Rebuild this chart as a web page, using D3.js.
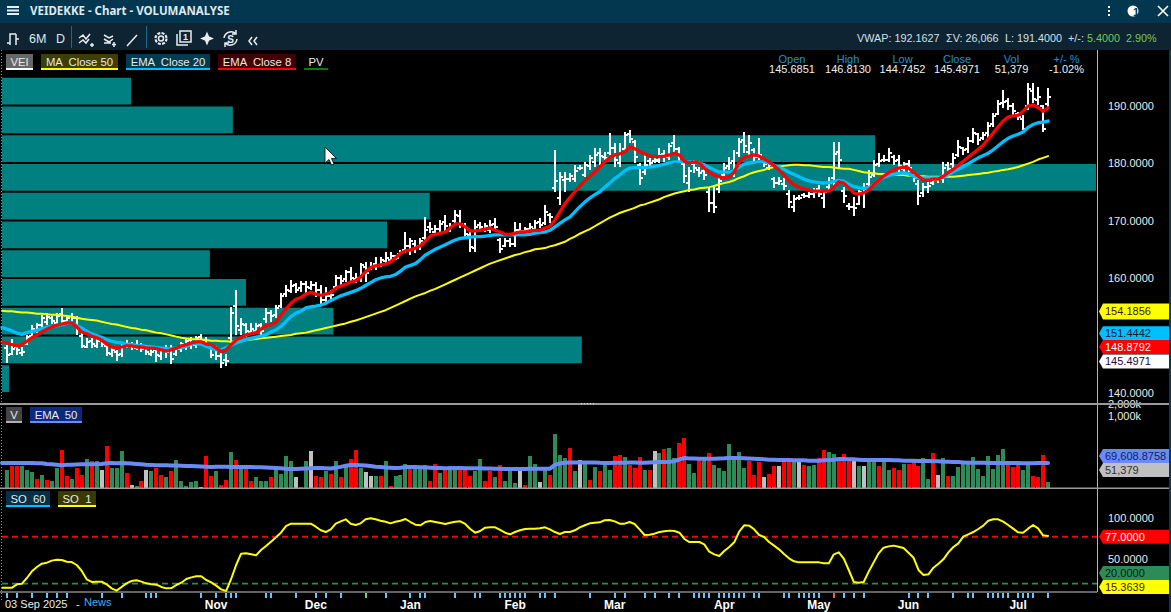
<!DOCTYPE html>
<html>
<head>
<meta charset="utf-8">
<title>VEIDEKKE - Chart - VOLUMANALYSE</title>
<script src="https://cdn.jsdelivr.net/npm/d3@7"></script>
<style>
html, body { margin: 0; padding: 0; background: #000; overflow: hidden; }
svg { display: block; }
text { font-family: "Liberation Sans", Arial, sans-serif; white-space: pre; }
</style>
</head>
<body>
<div id="chart"></div>
<script>
// daily bars
const highs = [
148.4,149.4,148.2,148.0,150.1,151.8,152.2,153.6,153.9,153.4,
153.9,154.8,153.4,153.9,153.4,150.8,149.6,149.6,149.7,149.6,
148.5,147.8,147.5,148.9,149.2,148.9,149.2,148.7,148.4,148.2,
148.2,148.0,148.4,148.4,148.0,148.9,149.6,149.7,149.9,150.3,
149.7,148.5,148.2,147.1,146.813,154.9,157.9,153.0,152.2,152.2,
152.2,152.2,154.8,154.4,155.3,157.4,158.8,159.7,159.1,159.5,
159.5,159.5,159.3,158.8,158.4,157.9,160.5,160.5,161.4,161.9,
160.9,162.6,162.8,162.8,163.7,163.7,164.5,164.5,164.0,164.9,
168.0,167.0,166.6,167.0,170.6,169.7,169.2,170.1,171.0,169.6,
171.8,171.8,169.6,168.3,170.1,169.7,169.6,170.1,170.4,167.0,
167.0,167.0,169.7,169.6,168.9,169.6,170.1,170.4,172.7,171.3,
182.3,178.4,178.4,178.3,179.7,179.7,180.2,181.4,182.6,182.6,
181.9,185.2,183.5,183.5,185.4,185.7,184.0,180.0,181.7,180.9,
180.9,182.6,182.3,183.5,184.9,182.8,180.2,179.3,180.5,179.3,
179.3,175.8,176.2,177.4,180.0,181.0,182.3,184.4,185.4,184.9,
182.6,184.4,180.5,180.2,177.6,177.6,177.4,175.3,174.4,174.4,
174.8,175.0,175.7,176.2,175.3,177.6,183.7,183.7,175.8,173.0,
174.1,175.3,176.5,178.8,180.5,181.7,181.4,182.6,181.4,181.4,
180.2,180.5,178.4,177.0,176.5,177.0,177.4,177.6,180.2,180.2,
181.7,184.0,182.8,184.5,186.1,185.2,185.4,187.1,188.7,191.0,
192.7,191.3,190.4,188.9,188.3,193.9,193.9,193.2,190.1,193.0];
const lows = [
145.2,146.6,146.6,146.4,148.4,149.7,150.4,151.3,151.8,152.0,
151.8,151.8,152.2,152.0,150.1,147.8,147.8,147.8,147.8,148.0,
146.4,146.3,145.6,146.3,147.8,147.5,147.5,147.1,146.6,146.4,
145.4,145.7,146.1,145.0,146.4,147.1,147.5,147.6,147.8,148.4,
147.8,146.1,145.7,144.3,144.7452,148.7,150.1,150.1,149.7,150.1,
150.4,149.7,152.2,152.3,153.0,154.8,156.7,157.4,157.4,157.6,
157.4,157.9,156.7,155.3,155.6,156.2,157.9,158.4,159.3,159.1,
159.1,159.3,159.3,161.4,161.4,161.9,162.6,162.8,163.1,164.0,
164.3,164.0,164.3,164.9,166.6,167.8,167.5,168.0,168.0,168.0,
169.6,168.7,167.0,164.5,164.5,168.0,168.0,167.8,168.3,164.3,
165.4,165.4,165.4,167.8,167.8,168.3,168.0,168.7,169.2,169.6,
175.0,172.7,175.0,176.7,176.7,178.8,177.6,178.8,179.3,179.7,
180.2,181.4,179.3,179.3,181.7,183.5,180.0,176.2,177.9,179.3,
180.0,180.0,180.2,180.5,181.4,180.2,176.5,175.0,178.3,177.6,
177.0,171.5,171.3,174.8,177.6,178.8,177.6,181.0,181.7,181.4,
180.2,180.5,179.3,178.8,175.7,176.2,175.3,172.2,171.5,173.6,
173.9,173.9,173.9,174.1,172.2,175.3,175.8,179.1,173.0,171.8,
170.8,172.7,172.2,175.8,177.6,179.3,180.2,180.2,179.6,178.4,
178.3,178.4,176.7,172.7,174.1,174.8,176.2,176.5,176.5,177.9,
179.1,181.0,181.4,181.7,183.5,183.1,184.0,184.4,186.3,188.3,
189.6,189.2,188.3,187.5,185.7,189.2,190.4,190.1,185.4,189.6];
const opens = [
147.8,146.8,148.0,147.0,148.6,150.0,151.0,151.8,152.4,153.0,
152.2,153.8,152.6,152.4,153.0,150.0,148.0,149.0,148.2,149.2,
148.2,146.8,147.2,146.8,148.6,148.6,147.8,148.2,148.0,146.8,
147.4,146.4,147.8,147.8,146.8,147.6,148.4,149.2,148.4,149.8,
149.2,148.0,147.6,146.4,145.6851,149.6,155.2,151.0,151.8,150.6,
150.8,151.8,152.8,154.0,153.6,155.2,157.2,157.8,158.8,158.2,
159.0,158.2,158.8,158.0,156.2,156.8,158.4,160.0,159.8,161.0,
159.8,160.0,162.0,161.6,162.4,162.2,163.0,163.2,163.8,164.2,
164.8,165.6,166.0,165.6,167.0,168.8,168.0,168.6,169.8,168.4,
170.0,170.8,169.0,167.4,165.2,169.2,168.4,168.4,169.4,166.6,
165.6,166.4,166.0,168.4,168.2,168.6,168.6,169.8,169.6,171.0,
175.6,174.0,177.0,177.2,177.2,179.2,178.0,179.4,180.2,181.8,
181.0,181.8,182.6,180.0,182.4,185.0,183.6,179.6,178.4,180.4,
180.4,180.4,181.6,181.0,183.4,182.4,179.8,176.6,179.8,178.8,
178.6,175.0,173.0,175.4,178.0,179.4,180.4,181.8,184.0,182.0,
182.2,181.0,180.2,179.2,177.2,176.6,176.4,174.6,172.4,174.0,
174.4,174.2,174.6,175.4,174.0,175.8,177.4,182.0,175.2,172.6,
172.4,172.8,174.6,176.4,178.0,179.8,180.6,180.6,181.0,180.6,
179.0,179.8,178.0,176.4,174.8,175.8,176.6,177.0,177.2,179.6,
179.8,181.4,182.6,182.4,183.8,185.0,184.4,185.2,186.8,188.6,
190.4,190.8,190.0,188.6,187.6,190.0,192.6,191.0,190.0,190.2];
const closes = [
146.6,147.6,147.4,147.2,149.8,151.2,151.8,153.0,153.2,152.6,
153.4,152.6,153.0,153.0,151.0,148.2,148.8,148.6,149.0,148.6,
147.0,147.4,146.6,148.2,148.4,148.0,148.4,147.6,147.2,147.2,
146.6,147.4,147.2,146.0,147.6,148.6,149.0,148.8,149.6,149.0,
148.4,146.6,146.4,145.2,145.4971,154.0,151.6,152.0,150.8,151.2,
151.6,150.8,154.0,153.4,154.8,156.8,158.0,158.6,158.0,159.0,
158.4,158.8,158.0,156.2,156.8,157.0,160.0,159.4,161.0,160.0,
160.0,162.2,160.8,162.0,162.2,163.2,163.4,163.8,163.4,164.6,
165.6,166.4,165.4,166.4,168.4,168.6,168.6,169.4,169.0,169.0,
171.0,169.4,167.6,165.4,168.8,168.8,169.0,169.2,168.8,165.0,
166.4,166.0,168.4,168.2,168.6,168.9,169.6,169.2,171.4,170.6,
176.8,177.6,177.2,177.8,178.6,179.2,179.6,180.8,181.4,181.2,
180.8,182.6,180.6,181.8,184.8,184.2,181.0,177.4,179.6,180.0,
180.6,181.4,181.2,183.0,182.4,181.0,177.8,178.6,179.2,178.2,
178.0,173.0,172.4,176.8,179.2,180.0,179.0,183.6,183.0,183.4,
181.0,181.4,179.8,179.6,176.6,176.8,176.0,173.2,173.8,174.0,
174.2,174.6,175.0,174.6,175.0,176.6,181.6,180.6,174.2,172.4,
172.2,175.0,175.4,177.6,179.6,180.4,180.6,181.8,180.4,179.4,
179.8,179.2,177.4,174.2,175.8,176.0,177.0,177.2,179.2,179.0,
180.8,182.8,182.2,183.8,185.2,184.0,184.8,186.4,188.2,190.2,
190.6,190.0,189.0,188.0,186.0,192.8,191.2,191.4,186.0,191.4];

// the line series start one bar earlier than the bars on screen
// MA Close 50
const ma50 = [154.3,
154.2,154.2,154.1,154.0,154.0,153.9,153.8,153.8,153.7,153.6,
153.6,153.5,153.4,153.3,153.1,152.9,152.8,152.7,152.6,152.4,
152.2,152.0,151.9,151.7,151.5,151.3,151.2,151.0,150.9,150.7,
150.5,150.4,150.2,150.0,149.8,149.6,149.5,149.4,149.3,149.3,
149.2,149.1,149.1,149.0,149.0,148.9,149.0,149.0,149.2,149.3,
149.4,149.5,149.6,149.7,149.8,149.9,150.0,150.1,150.3,150.4,
150.5,150.7,150.9,151.1,151.3,151.5,151.7,151.9,152.1,152.4,
152.6,152.9,153.2,153.5,153.8,154.1,154.4,154.8,155.2,155.6,
156.0,156.4,156.8,157.1,157.4,157.8,158.1,158.5,158.9,159.3,
159.7,160.1,160.5,160.9,161.3,161.7,162.1,162.5,162.8,163.1,
163.4,163.7,164.0,164.2,164.5,164.7,165.0,165.1,165.2,165.5,
165.7,166.0,166.3,166.8,167.2,167.7,168.1,168.5,169.0,169.5,
170.0,170.5,170.9,171.3,171.6,171.9,172.2,172.6,172.8,173.1,
173.4,173.7,174.1,174.4,174.7,174.9,175.1,175.3,175.4,175.6,
175.7,175.8,176.0,176.3,176.5,176.7,177.0,177.4,177.7,178.1,
178.4,178.6,178.8,179.1,179.3,179.4,179.5,179.6,179.7,179.7,
179.6,179.6,179.5,179.4,179.3,179.3,179.2,179.1,179.0,179.0,
178.8,178.6,178.4,178.3,178.2,178.1,178.1,178.0,178.0,177.9,
177.9,177.8,177.8,177.7,177.7,177.6,177.6,177.6,177.6,177.6,
177.6,177.7,177.8,177.9,178.0,178.1,178.2,178.3,178.5,178.6,
178.8,178.9,179.1,179.3,179.6,179.9,180.2,180.6,180.9,181.2];
// EMA Close 20
const ema20 = [151.4,
151.1,150.8,150.4,150.2,150.5,150.7,150.9,151.2,151.4,151.6,
151.7,151.9,152.1,152.2,151.7,151.3,150.7,150.3,150.0,149.7,
149.3,149.0,148.8,148.7,148.5,148.4,148.3,148.2,148.1,148.0,
147.9,147.8,147.7,147.7,147.8,147.9,148.1,148.5,148.6,148.5,
148.1,147.8,147.5,147.5,147.9,148.3,148.7,149.0,149.3,149.5,
149.7,149.9,150.1,150.6,151.0,151.6,152.4,153.3,153.9,154.2,
154.8,155.0,155.1,155.3,155.6,156.1,156.5,156.9,157.2,157.5,
157.8,158.2,158.7,159.2,159.7,160.0,160.2,160.3,160.6,161.2,
161.9,162.2,162.5,163.2,164.0,164.5,165.0,165.4,165.8,166.2,
166.6,166.9,167.0,167.1,167.2,167.2,167.3,167.4,167.5,167.5,
167.5,167.5,167.5,167.5,167.5,167.6,167.8,167.9,168.0,168.3,
168.9,169.5,170.1,170.6,171.5,172.4,173.2,173.9,174.5,175.0,
175.8,176.5,177.3,177.9,178.6,179.1,179.2,179.2,179.2,179.3,
179.4,179.6,179.8,180.0,180.2,180.2,180.2,180.2,180.1,180.0,
179.7,179.2,178.8,178.4,178.4,178.4,178.7,179.3,179.8,180.0,
180.1,180.2,180.2,180.0,179.6,179.2,178.9,178.4,178.0,177.6,
177.2,176.9,176.7,176.6,176.5,176.6,176.8,177.0,176.8,176.3,
175.9,175.7,175.6,175.7,176.2,177.0,177.5,177.8,178.0,178.2,
178.3,178.1,177.7,177.4,177.4,177.4,177.4,177.4,177.5,178.0,
178.5,178.9,179.4,179.9,180.4,180.9,181.3,181.7,182.3,183.0,
183.7,184.3,184.7,185.0,185.4,186.2,186.7,187.0,187.1,187.3];
// EMA Close 8
const ema8 = [148.9,
148.7,148.4,148.2,148.4,149.0,149.6,150.1,150.6,151.1,151.5,
151.8,152.0,152.2,152.2,151.5,150.6,150.3,149.9,149.6,149.2,
148.5,148.0,147.8,148.0,148.2,148.2,148.0,148.0,147.8,147.8,
147.7,147.5,147.3,147.5,147.8,148.2,148.4,148.7,148.9,148.9,
148.5,148.4,147.8,147.2,147.5,148.4,149.2,149.7,150.1,150.3,
150.5,151.1,151.7,151.9,152.3,153.6,154.6,155.6,156.3,156.6,
157.2,157.5,157.2,157.0,157.2,157.5,158.2,158.6,158.9,159.3,
159.5,160.2,161.1,161.8,162.1,162.3,162.4,162.8,163.5,164.3,
164.7,164.9,165.2,165.6,166.4,167.3,167.6,167.8,168.0,168.7,
169.4,169.4,168.9,168.2,168.2,168.3,168.5,168.7,168.3,168.0,
167.6,167.6,167.8,168.0,168.0,168.2,168.3,168.3,168.7,169.0,
170.1,171.5,172.9,174.0,175.0,176.0,176.9,177.7,178.4,179.3,
180.2,180.9,181.4,181.6,181.9,182.8,182.5,182.0,181.6,181.2,
181.1,181.1,181.2,181.4,181.7,181.4,180.3,180.0,180.2,180.0,
179.1,178.4,177.9,177.6,177.4,177.6,178.4,180.2,181.0,181.2,
181.4,181.2,180.7,180.2,179.5,178.8,177.9,176.9,176.2,175.8,
175.5,175.3,175.1,175.1,175.1,175.1,175.8,176.7,176.5,175.7,
174.8,174.6,174.8,175.3,176.2,177.0,177.7,178.3,178.8,179.1,
179.3,179.1,178.4,177.7,177.0,177.0,177.2,177.2,177.7,178.4,
178.9,179.6,180.3,181.0,181.7,182.4,183.1,184.2,185.2,186.3,
187.3,188.0,188.2,188.3,189.0,189.9,190.1,189.7,189.0,189.6];

// volume in thousands, with its side: g up, r down, n unchanged
const volumes = [
83,100,100,100,83,76,55,66,52,50,
91,209,63,55,91,66,138,126,126,83,
251,91,91,200,72,42,40,50,83,80,
91,66,60,80,132,50,40,48,50,38,
158,63,80,42,51.379,191,132,91,91,50,
60,50,50,60,91,69,158,126,60,38,
126,200,63,60,80,69,126,60,110,138,
209,91,76,63,63,63,126,40,63,66,
110,91,91,87,105,50,110,72,87,100,
100,91,91,63,80,138,50,80,60,105,
50,87,46,80,42,158,110,48,91,66,
437,166,145,229,80,132,126,52,96,80,
110,83,158,166,151,105,91,151,83,83,
200,182,219,229,145,288,363,110,72,132,
132,182,105,91,80,275,158,191,91,126,
66,120,60,69,100,100,126,126,126,120,
105,100,105,145,209,191,174,145,174,138,
138,100,100,126,120,100,126,83,91,83,
110,110,120,100,145,55,182,66,145,63,
63,96,115,110,151,87,63,158,87,166,
219,115,96,105,83,110,63,60,166,48];
const volSide = (
"grrgggrgrg" + "grrgrrgrgn" + "rgggrngrng" + "rrgrgggggn" + "rrgrrgrgrr" +
"gggrggggnr" + "gnrrgrgrgr" + "rgnngrgrgg" + "grgggrrgrg" + "grrrggrrgr" +
"gggnrggngr" + "gggrgngrgr" + "ggrrgrrrgr" + "ngrggrrggr" + "grgggggggr" +
"rrnrrnrrgn" + "rggrrggrrr" + "ngnggrggrr" + "grrrggrngr" + "gggggggggg" +
"grrrggrrrg").split("");
// EMA 50 of volume
const volEma = [115,
115,115,115,115,115,115,114,113,110,108,
106,104,106,106,107,108,108,108,109,110,
114,115,114,115,114,112,110,108,106,105,
104,104,103,102,102,101,100,100,99,98,
97,96,97,97,97,96,96,96,96,95,
94,94,93,92,91,90,88,87,87,88,
89,90,91,91,90,89,92,96,101,105,
105,104,102,100,97,95,93,92,91,92,
95,96,95,94,93,92,91,91,90,90,
91,91,90,90,90,90,89,89,88,88,
87,87,87,87,87,88,88,88,88,88,
105,112,116,118,118,118,118,118,118,116,
115,115,116,116,116,117,117,116,116,118,
119,120,120,122,125,135,145,142,141,140,
140,140,140,142,143,145,144,144,143,142,
140,138,136,134,133,132,132,132,130,130,
130,128,128,128,130,132,134,138,138,136,
136,134,132,132,132,132,132,132,130,130,
128,128,128,126,126,126,124,124,122,122,
120,120,118,116,116,116,116,115,115,115,
115,115,115,115,114,114,114,115,115,115];

// SO 1
const so1 = [15.0,
15.0,15.0,19.1,19.9,26.8,35.0,40.2,44.3,45.5,48.0,
49.2,48.8,46.7,46.3,42.7,35.4,25.2,22.0,22.4,22.4,
19.1,14.2,11.4,15.9,20.3,23.2,24.0,22.4,20.3,19.1,
18.7,15.9,14.2,14.6,18.3,21.1,25.6,27.6,28.9,28.9,
24.4,21.5,17.5,13.0,11.0,25.6,42.7,56.5,56.9,55.7,
54.5,61.0,65.9,71.1,76.4,82.1,90.2,93.1,93.1,93.1,
93.1,93.1,89.4,85.0,82.9,86.2,93.1,95.9,98.4,93.1,
91.5,93.5,98.4,99.6,98.4,96.7,95.5,93.5,95.5,96.7,
98.8,95.1,91.9,91.1,95.1,96.3,95.1,93.9,92.7,94.3,
95.5,95.9,92.7,86.6,82.1,84.1,88.2,88.6,88.6,85.4,
82.1,80.1,82.9,85.0,86.6,87.0,87.0,87.4,88.6,86.2,
82.9,80.5,82.9,82.9,85.0,88.6,91.1,93.5,94.3,94.7,
97.2,97.6,95.9,93.1,93.1,95.1,92.7,86.2,79.3,79.7,
80.9,82.9,83.7,84.6,84.1,82.1,74.4,70.7,70.7,70.7,
67.9,58.9,55.7,53.7,59.8,64.6,70.3,83.3,91.1,90.7,
86.2,79.3,76.8,70.7,66.3,61.8,56.1,50.8,47.2,45.9,
45.9,45.9,45.9,45.9,44.7,44.7,55.7,58.1,50.4,36.6,
22.0,21.1,22.0,34.6,45.9,56.9,63.8,65.4,66.3,65.0,
63.4,57.7,51.6,36.6,30.5,31.3,39.4,44.3,49.6,58.1,
64.6,69.1,77.2,80.1,82.9,86.6,90.7,96.7,98.4,98.4,
95.5,91.5,87.0,82.5,82.1,87.0,91.5,87.4,78.9,78.1];

// volume by price, 5.00 wide buckets from the top, as % of the biggest one
const pvTops = [195,190,185,180,175,170,165,160,155,150,145];
const pvVolume = [11.8,21.1,79.8,100,39.1,35.2,19.0,22.3,30.3,53.0,0.64];

const priceTicks = [190,180,170,160,140];
const volTicks = [1000,2000];
const soTicks = [100,50];
const months = ["Nov","Dec","Jan","Feb","Mar","Apr","May","Jun","Jul"];
const monthBars = [42,62,81,102,122,144,163,181,203];
const newsBars = [0,2,5,8,10,12,19,23,28,29,30,39,42,44,45,46,52,53,58,62,64,67,76,81,83,84,90,94,95,99,100,101,102,103,104,107,108,110,117,122,124,128,130,133,135,138,139,140,141,143,144,145,146,147,148,150,151,156,157,159,160,161,162,163,168,170,172,181,183,185,190,193,194,197,198,199,200,201,203,204,205,206,209];
const newsBarsGood = [72];
const newsBarsBad = [166];

const W = 1171, H = 612;
const axisX = 1097;
const svg = d3.select("#chart").append("svg").attr("width", W).attr("height", H);
svg.append("rect").attr("width", W).attr("height", H).attr("fill", "#000");

// scales
const x = d3.scaleLinear().domain([0, 209]).range([7, 1048]);
const y = d3.scaleLinear().domain([140, 190]).range([393, 105.5]);
const yVol = d3.scaleLog().domain([36.3, 1000]).range([488, 416]);
const ySo = d3.scaleLinear().domain([20, 100]).range([583.6, 518]);
const xPv = d3.scaleLinear().domain([0, 100]).range([2, 1096]);

// volume profile
svg.append("g").selectAll("rect").data(pvTops).enter().append("rect")
  .attr("x", xPv(0))
  .attr("y", d => y(d) + 1)
  .attr("width", (d, i) => xPv(pvVolume[i]) - xPv(0))
  .attr("height", d => y(d - 5) - y(d) - 2)
  .attr("fill", "#008080");

// ohlc bars
const bars = svg.append("g").attr("stroke", "#fff").attr("shape-rendering", "crispEdges")
  .selectAll("g").data(closes).enter().append("g");
bars.append("line").attr("stroke-width", 2)
  .attr("x1", (d, i) => x(i)).attr("x2", (d, i) => x(i))
  .attr("y1", (d, i) => y(highs[i])).attr("y2", (d, i) => y(lows[i]));
bars.append("line").attr("stroke-width", 2)
  .attr("x1", (d, i) => x(i) - 3).attr("x2", (d, i) => x(i))
  .attr("y1", (d, i) => y(opens[i])).attr("y2", (d, i) => y(opens[i]));
bars.append("line").attr("stroke-width", 2)
  .attr("x1", (d, i) => x(i)).attr("x2", (d, i) => x(i) + 3)
  .attr("y1", d => y(d)).attr("y2", d => y(d));

// i - 1 because these series hold one extra bar on the left
const priceLine = d3.line().x((d, i) => x(i - 1)).y(d => y(d));
function addLine(data, gen, color, width) {
  svg.append("path").datum(data)
    .attr("fill", "none").attr("stroke", color).attr("stroke-width", width)
    .attr("stroke-linejoin", "round").attr("stroke-linecap", "round")
    .attr("d", gen);
}
addLine(ma50, priceLine, "#ffff00", 2);
addLine(ema20, priceLine, "#00bfff", 3.3);
addLine(ema8, priceLine, "#ff0000", 3.3);

// volume panel
const volColor = { g: "#2e8b57", r: "#ff0000", n: "#c0c0c0" };
svg.append("g").attr("shape-rendering", "crispEdges")
  .selectAll("rect").data(volumes).enter().append("rect")
  .attr("x", (d, i) => Math.round(x(i)) - 2)
  .attr("width", 4)
  .attr("y", d => yVol(d))
  .attr("height", d => 488 - yVol(d))
  .attr("fill", (d, i) => volColor[volSide[i]]);
addLine(volEma, d3.line().x((d, i) => x(i - 1)).y(d => yVol(d)), "#6a8bf5", 4);

// stochastic panel
const dashRef = [[77, "#ff0000", 2], [20, "#2e8b57", 1.6]];
svg.append("g").selectAll("line").data(dashRef).enter().append("line")
  .attr("x1", 2).attr("x2", axisX)
  .attr("y1", d => ySo(d[0])).attr("y2", d => ySo(d[0]))
  .attr("stroke", d => d[1]).attr("stroke-width", d => d[2])
  .attr("stroke-dasharray", "6 4");
addLine(so1, d3.line().x((d, i) => x(i - 1)).y(d => ySo(d)), "#ffff00", 2);

// axes
function styleAxis(g) {
  g.select(".domain").remove();
  g.selectAll(".tick line").remove();
  g.selectAll("text").attr("fill", "#e6edf2").attr("font-size", 11)
    .attr("font-family", '"Liberation Sans", Arial, sans-serif');
}
svg.append("g").attr("transform", `translate(${axisX},0)`)
  .call(d3.axisRight(y).tickValues(priceTicks).tickFormat(d3.format(".4f")).tickSize(0).tickPadding(11))
  .call(styleAxis);
svg.append("g").attr("transform", `translate(${axisX},0)`)
  .call(d3.axisRight(yVol).tickValues(volTicks).tickFormat(d => d3.format(",")(d) + "k").tickSize(0).tickPadding(11))
  .call(styleAxis)
  .selectAll("text").filter(d => d === 2000).attr("dy", "0.6em");
svg.append("g").attr("transform", `translate(${axisX},0)`)
  .call(d3.axisRight(ySo).tickValues(soTicks).tickFormat(d3.format(".4f")).tickSize(0).tickPadding(11))
  .call(styleAxis);

// frame lines
svg.append("line").attr("x1", axisX + 0.5).attr("x2", axisX + 0.5).attr("y1", 50).attr("y2", 592).attr("stroke", "#b5b5b5");
svg.append("rect").attr("x", 0).attr("y", 403).attr("width", 1169).attr("height", 2).attr("fill", "#9a9a9a");
svg.append("rect").attr("x", 0).attr("y", 487.5).attr("width", 1169).attr("height", 1.5).attr("fill", "#9a9a9a");
svg.append("line").attr("x1", 0).attr("x2", axisX).attr("y1", 592).attr("y2", 592).attr("stroke", "#c8c8c8");
svg.append("line").attr("x1", 581).attr("x2", 596).attr("y1", 403.5).attr("y2", 403.5)
  .attr("stroke", "#e0e0e0").attr("stroke-dasharray", "1 2");
svg.append("line").attr("x1", 1.5).attr("x2", 1.5).attr("y1", 50).attr("y2", 600)
  .attr("stroke", "#5aa7c8").attr("stroke-dasharray", "1 2");
svg.append("rect").attr("x", 1169).attr("y", 50).attr("width", 2).attr("height", H - 50).attr("fill", "#0b3a50");

// news ticks and date labels
function newsTicks(data, color) {
  svg.append("g").attr("shape-rendering", "crispEdges").selectAll("rect").data(data).enter().append("rect")
    .attr("x", d => Math.round(x(d)) - 1).attr("y", 593).attr("width", 2).attr("height", 5).attr("fill", color);
}
newsTicks(newsBars, "#6cc6f5");
newsTicks(newsBarsGood, "#66dd66");
newsTicks(newsBarsBad, "#f06050");
svg.append("g").selectAll("text").data(months).enter().append("text")
  .attr("x", (d, i) => x(monthBars[i])).attr("y", 609).attr("text-anchor", "middle")
  .attr("font-size", 12).attr("font-weight", "bold").attr("fill", "#fff").text(d => d);
svg.append("text").attr("x", 5).attr("y", 608).attr("font-size", 11).attr("fill", "#e6edf2").text("03 Sep 2025");
svg.append("text").attr("x", 76).attr("y", 608).attr("font-size", 11).attr("fill", "#e6edf2").text("-");
svg.append("text").attr("x", 84).attr("y", 606).attr("font-size", 11).attr("fill", "#45aef0").text("News");

// last value tags
const tags = [
  { yc: y(154.1856), t: "154.1856", bg: "#ffff00", fg: "#3a1a00", h: 8 },
  { yc: y(151.4442) + 6, t: "151.4442", bg: "#00bfff", fg: "#001a30", h: 7 },
  { yc: y(148.8792) + 5, t: "148.8792", bg: "#ff0000", fg: "#fff", h: 7 },
  { yc: y(145.4971), t: "145.4971", bg: "#ffffff", fg: "#300040", h: 7 },
  { yc: 456, t: "69,608.8758", bg: "#6a8bf5", fg: "#102070", h: 7 },
  { yc: 470, t: "51,379", bg: "#c0c0c0", fg: "#303030", h: 7 },
  { yc: ySo(77), t: "77.0000", bg: "#ff0000", fg: "#fff", h: 7 },
  { yc: 573, t: "20.0000", bg: "#2e8b57", fg: "#06200f", h: 7 },
  { yc: 587, t: "15.3639", bg: "#ffff00", fg: "#3a1a00", h: 7 }
];
const tag = svg.append("g").selectAll("g").data(tags).enter().append("g");
tag.append("path")
  .attr("d", d => `M1099 ${d.yc}L1103 ${d.yc - d.h}H1169V${d.yc + d.h}H1103Z`)
  .attr("fill", d => d.bg);
tag.append("text").attr("x", 1105).attr("y", d => d.yc + 4).attr("font-size", 11)
  .attr("fill", d => d.fg).text(d => d.t);

// indicator legends
const legends = [
  { t: "VEI", x: 6, w: 27, y: 54, bg: "#666666", c: "#ffffff" },
  { t: "MA  Close 50", x: 41, w: 77, y: 54, bg: "#3e3e00", c: "#ffff00" },
  { t: "EMA  Close 20", x: 126, w: 84, y: 54, bg: "#003c50", c: "#00bfff" },
  { t: "EMA  Close 8", x: 218, w: 78, y: 54, bg: "#400000", c: "#ff0000" },
  { t: "PV", x: 304, w: 24, y: 54, bg: "#000000", c: "#008000" },
  { t: "V", x: 6, w: 16, y: 407, bg: "#444444", c: "#b0b0b0" },
  { t: "EMA  50", x: 30, w: 52, y: 407, bg: "#0a2a80", c: "#6a8bf5" },
  { t: "SO  60", x: 6, w: 44, y: 491, bg: "#04304a", c: "#00bfff" },
  { t: "SO  1", x: 58, w: 38, y: 491, bg: "#3a3a00", c: "#ffff00" }
];
const leg = svg.append("g").selectAll("g").data(legends).enter().append("g");
leg.append("rect").attr("x", d => d.x).attr("y", d => d.y).attr("width", d => d.w).attr("height", 14).attr("fill", d => d.bg);
leg.append("rect").attr("x", d => d.x).attr("y", d => d.y + 14).attr("width", d => d.w).attr("height", 2).attr("fill", d => d.c);
leg.append("text").attr("x", d => d.x + d.w / 2).attr("y", d => d.y + 11.5).attr("text-anchor", "middle")
  .attr("font-size", 11.3).attr("fill", "#e8e8e8").text(d => d.t);

// ohlc read-out
const readNames = ["Open","High","Low","Close","Vol","+/- %"];
const readValues = ["145.6851","146.8130","144.7452","145.4971","51,379","-1.02%"];
const readX = [792,848,902.5,957,1011.5,1066.5];
const read = svg.append("g").attr("text-anchor", "middle").attr("font-size", 11);
read.selectAll("text.n").data(readNames).enter().append("text").attr("class", "n")
  .attr("x", (d, i) => readX[i]).attr("y", 63).attr("fill", "#2090d0").text(d => d);
read.selectAll("text.v").data(readValues).enter().append("text").attr("class", "v")
  .attr("x", (d, i) => readX[i]).attr("y", 73).attr("fill", "#f0f0f0").text(d => d);

// mouse pointer
svg.append("path").attr("d", "M325 147v16l4-3.5l2.5 5.5l2.5-1l-2.5-5.5h5z")
  .attr("fill", "#fff").attr("stroke", "#000").attr("stroke-width", 0.8);

// title bar
svg.append("rect").attr("width", W).attr("height", 23).attr("fill", "#02374f");
svg.append("rect").attr("y", 23).attr("width", W).attr("height", 27).attr("fill", "#0f2433");
svg.append("path").attr("d", "M7 7h12M7 10.5h12M7 14h12").attr("stroke", "#e8eef2").attr("stroke-width", 2);
svg.append("text").attr("x", 30).attr("y", 15).attr("font-size", 11.5).attr("font-weight", "bold")
  .attr("style", 'font-family:"Noto Sans"').attr("fill", "#dfe8ee").text("VEIDEKKE - Chart - VOLUMANALYSE");
// right hand buttons
svg.append("path").attr("d", "M1109 6v2M1109 10v2M1109 14v2").attr("stroke", "#fff").attr("stroke-width", 2);
svg.append("circle").attr("cx", 1133).attr("cy", 11).attr("r", 5.5).attr("fill", "#fff");
svg.append("text").attr("x", 1133).attr("y", 16).attr("font-size", 11).attr("font-weight", "bold").attr("fill", "#02374f").text("1");
svg.append("path").attr("d", "M1158 6l10 10M1168 6l-10 10").attr("stroke", "#fff").attr("stroke-width", 1.6);

// toolbar
const tool = svg.append("g").attr("fill", "none").attr("stroke", "#e6edf2").attr("stroke-width", 1.5);
tool.append("path").attr("d", "M7 43h3M10 45V34h3M16 34v11M13 34h3M16 39h3");
tool.append("path").attr("d", "M79 38l4-3l3 4l4-5M79 43l4-3l3 3l3-4M92 43v4M90 45h4");
tool.append("path").attr("d", "M104 35l5 3l4-2M104 39l5 3l4-3M104 43h7M114 42v5M112 44.5h4");
tool.append("path").attr("d", "M127 46l10-11");
tool.append("circle").attr("cx", 161).attr("cy", 38.5).attr("r", 2.5);
tool.append("circle").attr("cx", 161).attr("cy", 38.5).attr("r", 5.5).attr("stroke-dasharray", "3 1.3").attr("stroke-width", 2.2);
tool.append("rect").attr("x", 180).attr("y", 31).attr("width", 11).attr("height", 11);
tool.append("path").attr("d", "M177 34v11h11");
tool.append("path").attr("d", "M207 33.5l1.5 3.5l3.5 1.5l-3.5 1.5l-1.5 3.5l-1.5-3.5l-3.5-1.5l3.5-1.5z").attr("fill", "#e6edf2");
tool.append("path").attr("d", "M224 38a7 7 0 0 1 12-4M237 39a7 7 0 0 1-12 4M236 30v4h-4M225 47v-4h4");
tool.append("path").attr("d", "M252 37l-3 4l3 4M257 37l-3 4l3 4");
svg.append("path").attr("d", "M71.5 26v22M146.5 26v22").attr("stroke", "#1a6a90").attr("stroke-width", 1);
svg.append("text").attr("x", 29).attr("y", 43).attr("font-size", 12.5).attr("fill", "#dfe8ee").text("6M");
svg.append("text").attr("x", 56).attr("y", 43).attr("font-size", 12.5).attr("fill", "#dfe8ee").text("D");
svg.append("text").attr("x", 185.5).attr("y", 40).attr("font-size", 9).attr("font-weight", "bold").attr("text-anchor", "middle").attr("fill", "#e6edf2").text("1");
svg.append("text").attr("x", 230.5).attr("y", 43).attr("font-size", 10).attr("font-weight", "bold").attr("text-anchor", "middle").attr("fill", "#e6edf2").text("S");

// vwap read-out in the toolbar
const stats = [
  { t: "VWAP: 192.1627", x: 857, c: "#cfe0ea" },
  { t: "\u03A3V: 26,066", x: 946, c: "#cfe0ea" },
  { t: "L: 191.4000", x: 1005, c: "#cfe0ea" },
  { t: "+/-:", x: 1068, c: "#cfe0ea" },
  { t: "5.4000", x: 1087, c: "#78c850" },
  { t: "2.90%", x: 1126, c: "#78c850" }
];
svg.append("g").selectAll("text").data(stats).enter().append("text")
  .attr("x", d => d.x).attr("y", 42).attr("font-size", 10.8).attr("fill", d => d.c).text(d => d.t);
</script>
</body>
</html>
